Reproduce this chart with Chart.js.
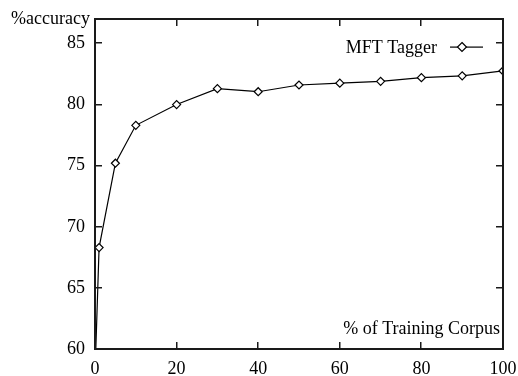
<!DOCTYPE html>
<html>
<head>
<meta charset="utf-8">
<script src="https://cdn.jsdelivr.net/npm/chart.js"></script>
<style>
  body { margin: 0; background: #fff; }
  #wrap { width: 518px; height: 376px; position: relative; }
</style>
</head>
<body>
<div id="wrap"><canvas id="accChart"></canvas></div>
<script>
// data
var trainPct = [0.2, 1, 5, 10, 20, 30, 40, 50, 60, 70, 80, 90, 100];
var accuracy = [60, 68.3, 75.2, 78.3, 80.0, 81.3, 81.05, 81.6, 81.75, 81.9, 82.2, 82.35, 82.75];
var markerSize = [0, 4, 4, 4, 4, 4, 4, 4, 4, 4, 4, 4, 4];
var yTicks = [60, 65, 70, 75, 80, 85];
var xTicks = [0, 20, 40, 60, 80, 100];
var seriesName = "MFT Tagger";
var yTitle = "%accuracy";
var xTitle = "% of Training Corpus";

var serif = "'Liberation Serif', 'DejaVu Serif', serif";
var ink = "#1a1a1a";

// frame with inward ticks on all four sides, captions and legend entry
var frame = {
  id: "frame",
  afterDraw: function (chart) {
    var c = chart.ctx, a = chart.chartArea;
    var xs = chart.scales.x, ys = chart.scales.y;
    var L = Math.round(a.left), R = Math.round(a.right);
    var T = Math.round(a.top), B = Math.round(a.bottom);
    c.save();
    c.fillStyle = ink;
    c.fillRect(L - 1, T - 1, R - L + 2, 2);
    c.fillRect(L - 1, B - 1, R - L + 2, 2);
    c.fillRect(L - 1, T - 1, 2, B - T + 2);
    c.fillRect(R - 1, T - 1, 2, B - T + 2);
    yTicks.forEach(function (v) {
      var py = Math.round(ys.getPixelForValue(v));
      c.fillRect(L, py - 1, 7, 1.5);
      c.fillRect(R - 7, py - 1, 7, 1.5);
    });
    xTicks.forEach(function (v) {
      var px = Math.round(xs.getPixelForValue(v));
      c.fillRect(px - 1, B - 7, 1.5, 7);
      c.fillRect(px - 1, T, 1.5, 7);
    });

    c.fillStyle = "#000";
    c.font = "18px " + serif;
    c.textBaseline = "alphabetic";
    c.textAlign = "right";
    c.fillText(yTitle, L - 5, T + 5);
    c.fillText(xTitle, R - 3, B - 15);

    var ly = T + 28;
    c.fillText(seriesName, R - 66, ly + 6);
    c.fillRect(R - 53, ly - 0.5, 33, 1.2);
    var dx = R - 41;
    c.strokeStyle = "#000";
    c.lineWidth = 1.2;
    c.beginPath();
    c.moveTo(dx, ly - 4.5); c.lineTo(dx + 4.5, ly); c.lineTo(dx, ly + 4.5); c.lineTo(dx - 4.5, ly);
    c.closePath();
    c.fillStyle = "#fff";
    c.fill();
    c.stroke();
    c.restore();
  }
};

new Chart(document.getElementById("accChart"), {
  type: "scatter",
  data: {
    datasets: [{
      label: seriesName,
      data: trainPct.map(function (x, i) { return { x: x, y: accuracy[i] }; }),
      showLine: true,
      borderColor: "#000",
      borderWidth: 1.2,
      tension: 0,
      pointStyle: "rectRot",
      pointRadius: markerSize,
      pointBackgroundColor: "#fff",
      pointBorderColor: "#000",
      pointBorderWidth: 1.2
    }]
  },
  options: {
    animation: false,
    responsive: true,
    maintainAspectRatio: false,
    layout: { padding: { left: 0, right: 15, top: 19, bottom: 0 } },
    plugins: { legend: { display: false }, tooltip: { enabled: false } },
    scales: {
      x: {
        type: "linear",
        min: 0,
        max: 100,
        afterBuildTicks: function (s) { s.ticks = xTicks.map(function (v) { return { value: v }; }); },
        afterFit: function (s) { s.height = 27; s.paddingLeft = 0; s.paddingRight = 0; },
        grid: { display: false, drawTicks: false },
        border: { display: false },
        ticks: { color: "#000", padding: 9, font: { family: serif, size: 18 } }
      },
      y: {
        type: "linear",
        min: 60,
        max: 87,
        afterBuildTicks: function (s) { s.ticks = yTicks.map(function (v) { return { value: v }; }); },
        afterFit: function (s) { s.width = 95; s.paddingTop = 0; s.paddingBottom = 0; },
        grid: { display: false, drawTicks: false },
        border: { display: false },
        ticks: { color: "#000", padding: 10, font: { family: serif, size: 18 } }
      }
    }
  },
  plugins: [frame]
});
</script>
</body>
</html>
